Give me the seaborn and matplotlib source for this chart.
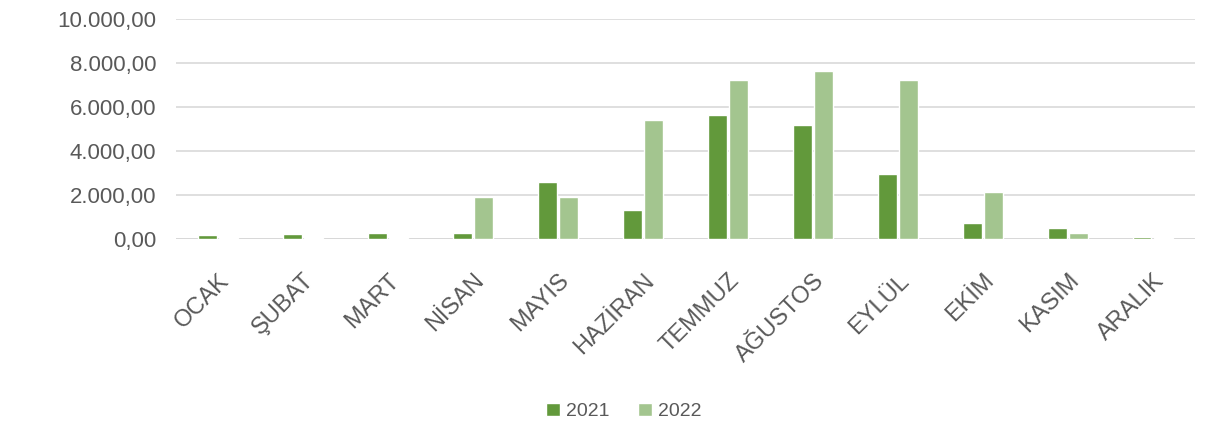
import pandas as pd
import matplotlib.pyplot as plt
import seaborn as sns
from matplotlib.ticker import FuncFormatter

# === 1. Data ===
months = ["OCAK", "ŞUBAT", "MART", "NİSAN", "MAYIS", "HAZİRAN",
          "TEMMUZ", "AĞUSTOS", "EYLÜL", "EKİM", "KASIM", "ARALIK"]
values_2021 = [200, 220, 260, 280, 2580, 1330, 5650, 5200, 2950, 720, 480, 80]
values_2022 = [50, 60, 60, 1920, 1920, 5400, 7250, 7650, 7250, 2150, 260, 50]
years = ["2021", "2022"]
colors = ["#62993b", "#a3c58f"]

df = pd.DataFrame({
    "Ay": months * 2,
    "Değer": values_2021 + values_2022,
    "Yıl": [years[0]] * len(months) + [years[1]] * len(months),
})

# === 2. Style ===
sns.set_style("white")
plt.rcParams["font.family"] = ["Liberation Sans", "DejaVu Sans"]
text_color = "#595959"

fig = plt.figure(figsize=(12.11, 4.33), dpi=100)
ax = fig.add_axes([0.145, 0.448, 0.842, 0.507])

sns.barplot(data=df, x="Ay", y="Değer", hue="Yıl", palette=colors,
            saturation=1, width=0.5, gap=0.12, ax=ax, legend=True)

# === 3. Axes formatting ===
def tr_fmt(v, pos):
    s = f"{v:,.2f}"
    return s.replace(",", "X").replace(".", ",").replace("X", ".")

ax.set_ylim(0, 10000)
ax.set_yticks(range(0, 10001, 2000))
ax.yaxis.set_major_formatter(FuncFormatter(tr_fmt))
ax.yaxis.grid(True, color="#d9d9d9", linewidth=1.2)
ax.set_axisbelow(True)
ax.axhline(0, color="#d0d0d0", linewidth=1.2, zorder=0)
for s in ax.spines.values():
    s.set_visible(False)
ax.set_xlabel("")
ax.set_ylabel("")
ax.tick_params(axis="both", length=0, colors=text_color)
ax.tick_params(axis="y", labelsize=16, pad=14)
ax.tick_params(axis="x", labelsize=17, pad=22)
plt.setp(ax.get_xticklabels(), rotation=45, ha="right", rotation_mode="anchor")

# === 4. Legend ===
handles, labels = ax.get_legend_handles_labels()
ax.legend_.remove()
fig.legend(handles, labels, loc="center", bbox_to_anchor=(0.515, 0.05),
           ncol=2, frameon=False, fontsize=14, handlelength=0.7,
           handleheight=0.7, handletextpad=0.3, columnspacing=1.5,
           labelcolor=text_color)

fig.savefig("out.png", dpi=100)
plt.close(fig)
